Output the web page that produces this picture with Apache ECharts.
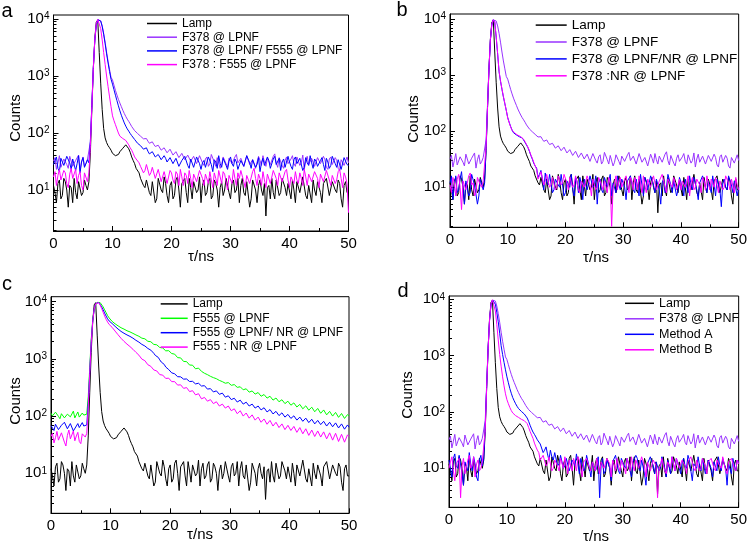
<!DOCTYPE html>
<html><head><meta charset="utf-8">
<script src="https://cdn.jsdelivr.net/npm/echarts@6/dist/echarts.min.js"></script>
<style>html,body{margin:0;padding:0;background:#fff}#c{width:750px;height:547px}</style>
</head><body><div id="c"></div>
<script>
// sample times (ns), 0.25 ns step
const times = [
  0,0.25,0.5,0.75,1,1.25,1.5,1.75,2,2.25,2.5,2.75,
  3,3.25,3.5,3.75,4,4.25,4.5,4.75,5,5.25,5.5,5.75,
  6,6.25,6.5,6.75,7,7.25,7.5,7.75,8,8.25,8.5,8.75,9,9.25,9.5,9.75,
  10,10.25,10.5,10.75,11,11.25,11.5,11.75,12,12.25,12.5,12.75,13,13.25,13.5,13.75,14,14.25,14.5,14.75,
  15,15.25,15.5,15.75,16,16.25,16.5,16.75,17,17.25,17.5,17.75,18,18.25,18.5,18.75,19,19.25,19.5,19.75,
  20,20.25,20.5,20.75,21,21.25,21.5,21.75,22,22.25,22.5,22.75,23,23.25,23.5,23.75,24,24.25,24.5,24.75,
  25,25.25,25.5,25.75,26,26.25,26.5,26.75,27,27.25,27.5,27.75,28,28.25,28.5,28.75,29,29.25,29.5,29.75,
  30,30.25,30.5,30.75,31,31.25,31.5,31.75,32,32.25,32.5,32.75,33,33.25,33.5,33.75,34,34.25,34.5,34.75,
  35,35.25,35.5,35.75,36,36.25,36.5,36.75,37,37.25,37.5,37.75,38,38.25,38.5,38.75,39,39.25,39.5,39.75,
  40,40.25,40.5,40.75,41,41.25,41.5,41.75,42,42.25,42.5,42.75,43,43.25,43.5,43.75,44,44.25,44.5,44.75,
  45,45.25,45.5,45.75,46,46.25,46.5,46.75,47,47.25,47.5,47.75,48,48.25,48.5,48.75,49,49.25,49.5,49.75,
  50];

const lamp = [
  12,9,6,13,15,7,8,16,14,10,5,12,
  11,6,16,9,7,14,13,8,9,15,12,10,
  14,45,260,1300,4500,8800,9600,2600,750,260,120,82,68,60,55,50,
  44,42,40,38,42,47,50,54,58,62,60,53,46,38,33,29,24,23,20,16,
  17,12,11,15,16,9,8,14,14,6,7,16,15,10,9,17,13,8,6,12,
  14,7,8,15,17,10,5,13,12,16,9,6,16,11,7,14,13,9,10,17,
  6,12,15,8,9,14,16,7,8,15,13,10,5,11,14,8,10,16,17,9,
  7,13,15,9,10,16,6,12,16,9,8,14,13,5,7,15,14,10,6,12,
  15,10,8,13,3.5,11,12,7,16,9,7,15,14,8,9,16,17,11,8,13,
  12,7,15,10,6,14,14,9,9,17,16,8,7,12,13,6,15,10,8,14,
  14,9,6,13,12,16,17,8,8,14,15,10,9,15,13,7,5,12,14,9,
  9];

const f378 = [
  32,37,23,30,40,25,27,35,36,28,24,39,
  42,26,28,33,34,41,22,31,38,26,29,34,
  33,70,300,1400,4200,7800,9700,9900,9300,7600,5600,3900,2600,1800,1300,950,
  850,690,560,465,390,335,290,250,220,195,175,160,145,130,122,110,102,98,92,88,
  86,79,74,80,72,66,62,70,63,58,55,61,57,50,48,55,51,45,43,52,
  48,41,39,47,45,37,36,44,42,34,33,41,40,32,31,39,38,29,30,40,
  39,30,27,35,38,26,29,42,41,31,26,37,36,24,28,38,40,29,25,36,
  37,29,27,38,42,30,28,36,35,26,24,40,39,28,27,34,36,24,25,39,
  33,27,40,31,26,36,37,28,28,39,43,30,25,37,35,27,24,33,38,29,
  28,35,40,29,26,38,36,27,30,41,23,32,39,28,27,36,35,26,25,37,
  37,29,27,39,34,25,23,35,38,28,26,37,33,24,22,34,36,27,25,38,
  30];

const aBlend = [
  28,33,38,24,21,36,34,27,25,39,41,30,
  23,35,36,22,29,40,20,31,37,25,26,34,
  30,72,310,1400,4200,7800,9700,9900,9200,7400,5400,3700,2450,1700,1200,880,
  720,575,460,370,300,245,205,175,150,132,118,108,98,90,84,77,72,66,62,60,
  58,52,50,55,48,43,42,47,44,38,36,42,39,34,33,40,36,31,30,37,
  35,29,27,36,34,26,25,33,32,39,38,27,24,35,33,25,27,38,39,29,
  23,30,33,25,26,38,37,28,21,34,31,24,40,29,25,36,34,27,23,32,
  38,29,26,35,31,23,22,33,35,26,27,40,39,30,24,34,32,25,28,37,
  21,30,36,27,26,38,33,24,24,35,39,28,27,36,22,31,35,25,26,39,
  31,26,23,34,38,29,27,36,34,22,25,37,30,27,40,30,24,35,32,26,
  26,33,37,28,22,36,31,24,27,39,38,29,25,34,32,23,23,37,35,28,
  27];

const aMix = [
  17,21,12,18,23,15,14,22,20,13,11,19,
  24,16,15,23,13,18,21,12,10,20,19,14,
  20,60,290,1350,4300,8300,9800,9300,6800,4300,2600,1600,1000,650,430,290,
  200,165,140,118,100,88,82,80,76,74,70,62,55,50,44,38,35,33,30,26,
  27,20,22,28,26,18,20,25,24,16,17,23,22,14,15,21,21,13,14,22,
  20,15,13,21,19,12,23,17,12,20,18,13,22,16,11,19,19,14,14,22,
  23,16,12,19,18,13,21,15,11,20,16,12,22,17,13,21,19,14,10,18,
  18,13,23,16,12,20,16,22,21,14,11,18,19,13,14,21,24,16,12,19,
  16,12,21,15,11,19,18,13,13,22,22,16,12,20,19,14,14,21,23,15,
  11,17,18,13,21,15,13,20,16,12,23,17,12,19,19,14,14,21,22,16,
  11,19,18,14,13,22,21,15,12,18,19,13,15,21,23,16,11,20,17,13,
  4];

const bBlend = [
  12,16,6,11,16,8,9,14,19,10,5,13,
  14,7,8,17,17,11,11,5,7,14,15,9,
  12,50,270,1300,4300,8300,9800,8800,4800,2400,1150,780,560,410,310,235,
  175,145,122,105,94,90,86,83,80,78,76,70,63,57,51,44,37,32,27,24,
  22,15,17,20,14,9,18,12,11,17,16,8,9,14,15,11,10,17,16,7,
  8,13,14,10,17,9,7,15,13,8,15,11,6,14,13,9,9,16,16,10,
  11,16,5,12,14,9,8,15,15,10,10,17,7,12,13,8,16,11,9,14,
  14,10,6,13,12,16,15,9,8,14,13,7,17,11,7,15,13,9,9,16,
  15,11,8,14,13,9,5,12,14,8,10,17,16,11,8,13,13,7,9,15,
  15,10,7,14,13,8,16,11,9,15,14,9,6,12,13,16,15,10,8,13,
  12,8,16,11,7,14,13,9,4.5,12,14,10,9,16,15,11,8,13,13,7,
  10];

const bMix = [
  11,8,15,12,7,14,17,10,4,13,14,9,
  9,16,18,11,12,7,8,15,16,11,10,13,
  14,52,275,1320,4350,8300,9800,8900,4900,2450,1180,800,570,420,315,235,
  172,142,120,104,96,92,88,85,82,80,78,72,65,58,52,45,38,33,28,24,
  21,14,16,19,19,11,13,17,17,10,11,15,16,9,10,16,15,11,12,17,
  16,12,9,15,14,10,11,16,17,9,8,13,14,10,10,16,15,11,7,14,
  14,9,10,15,16,11,9,13,13,8,15,12,2,10,12,16,9,13,15,10,
  10,14,16,11,8,15,13,9,15,12,9,16,12,8,16,11,8,14,14,10,
  10,16,15,9,9,13,13,17,16,10,8,14,14,11,10,15,15,9,11,14,
  9,13,14,10,10,16,7,12,15,9,10,14,14,11,8,15,13,9,16,12,
  9,14,13,10,15,11,8,13,14,9,10,16,16,12,9,14,13,8,15,11,
  9];

const f555 = [
  112,101,95,117,121,99,90,110,106,93,86,108,
  115,97,98,122,93,105,118,96,89,113,104,100,
  108,220,700,2200,4800,7300,8900,9700,9900,9600,8900,8100,7200,6400,5700,5200,
  4800,4520,4300,4100,3950,3780,3650,3500,3400,3310,3200,3100,3050,2960,2900,2790,2700,2620,2550,2480,
  2450,2300,2220,2240,2170,2030,1970,1990,1910,1790,1740,1760,1690,1580,1530,1550,1500,1380,1360,1390,
  1350,1240,1190,1210,1160,1050,1020,1040,995,900,875,895,860,780,760,775,750,670,660,690,
  650,605,590,560,570,530,520,495,505,470,462,450,452,420,412,400,405,375,372,385,
  372,345,340,355,342,318,308,325,312,288,284,300,288,262,258,275,266,242,238,258,
  246,222,220,238,230,206,204,222,214,190,188,207,200,178,176,193,186,165,162,182,
  176,155,152,170,164,144,142,160,155,134,133,151,146,127,125,143,138,119,117,136,
  130,112,110,128,124,105,104,121,118,100,99,116,112,95,94,111,107,91,90,106,
  100];

const cBlend = [
  68,62,56,72,76,58,54,69,66,78,80,60,
  59,74,71,55,52,67,74,63,61,77,67,70,
  70,170,600,2000,4600,7400,9200,9900,9700,9000,8100,7200,6300,5600,5000,4600,
  4400,4150,3900,3700,3500,3320,3150,3020,2900,2800,2700,2620,2550,2470,2400,2300,2200,2110,2020,1960,
  1900,1790,1700,1680,1630,1520,1440,1420,1360,1250,1150,1120,1060,960,880,850,800,720,665,650,
  615,570,540,548,525,488,470,485,472,442,430,445,432,402,392,405,392,365,357,375,
  362,335,322,340,322,296,284,302,292,264,258,276,266,240,232,252,240,214,208,226,
  212,194,190,205,196,176,174,190,182,162,160,175,168,150,148,162,156,138,136,150,
  144,128,126,140,133,118,116,130,124,109,108,121,117,102,101,114,110,96,95,107,
  104,91,89,101,99,85,84,96,94,81,80,92,90,77,76,88,86,73,73,84,
  83,71,70,81,80,67,67,78,77,65,64,76,74,62,62,73,71,59,60,70,
  64];

const cMix = [
  44,50,34,42,54,38,39,51,49,35,30,46,
  57,40,41,55,37,45,52,36,33,49,47,43,
  50,140,560,1900,4500,7400,9200,9900,9600,8700,7600,6500,5600,4900,4400,4000,
  3850,3560,3300,3060,2850,2640,2450,2290,2150,2020,1900,1810,1720,1640,1560,1470,1380,1300,1220,1160,
  1100,990,950,930,880,790,745,740,705,640,615,615,590,530,515,520,500,455,445,460,
  442,400,390,400,385,348,340,352,338,305,302,315,298,268,264,278,262,235,230,246,
  222,200,196,212,204,182,178,194,186,165,162,178,170,150,148,162,156,138,136,150,
  144,124,118,134,128,110,108,124,118,100,98,113,108,92,90,105,100,85,84,96,
  92,78,76,89,86,72,71,84,80,67,66,78,75,63,62,73,70,58,58,69,
  67,56,55,66,64,52,52,63,61,49,49,60,58,46,47,57,56,44,44,55,
  54,43,42,53,52,40,40,51,51,38,39,50,49,36,37,48,48,35,36,47,
  44];

const methodA = [
  14,10,7,15,18,11,10,17,16,8,5,13,
  13,9,19,12,9,16,12,7,6,14,17,11,
  15,55,280,1350,4300,8100,9700,9700,8200,5900,4000,2500,1500,1050,760,560,
  420,330,260,215,180,158,140,126,115,108,102,97,92,86,78,68,58,50,44,40,
  36,32,30,27,25,19,21,24,18,14,21,16,14,19,18,11,12,17,17,10,
  11,15,16,9,9,14,15,11,18,12,8,15,14,9,10,17,16,10,7,13,
  14,9,10,16,3,11,15,8,9,14,14,10,6,13,13,17,16,9,8,15,
  14,11,10,15,16,9,7,13,13,17,15,10,9,14,14,8,5,12,13,16,
  16,11,8,13,14,9,10,16,15,10,7,14,13,8,16,12,9,15,14,10,
  8,13,15,11,10,17,14,9,6,12,13,10,16,11,9,15,14,8,10,14,
  15,10,7,13,13,9,16,11,9,15,14,10,5,12,13,8,15,11,9,14,
  13];

const methodB = [
  10,13,16,9,6,12,13,15,3,11,15,8,
  8,14,17,10,11,16,7,12,14,9,10,13,
  12,48,270,1300,4300,8300,9800,9200,6200,3600,1900,1050,650,420,290,210,
  165,140,120,106,96,90,86,83,80,77,74,72,70,66,62,53,45,39,34,28,
  24,21,19,14,15,17,18,11,12,16,16,9,10,14,15,11,9,15,14,10,
  16,11,8,14,13,9,15,12,9,16,14,10,7,13,12,15,16,10,9,13,
  12,9,15,11,8,13,14,10,10,15,16,12,7,14,12,9,15,11,9,14,
  14,10,8,15,12,9,16,11,9,14,14,10,10,16,15,11,7,13,13,9,
  9,14,15,11,3,10,11,15,14,9,8,13,13,10,16,12,9,15,14,10,
  10,14,15,11,8,13,12,16,16,10,9,14,14,9,10,15,15,11,8,13,
  12,15,16,10,9,14,14,11,10,16,15,9,8,13,12,15,16,10,9,14,
  12];

const xTicks = [0, 10, 20, 30, 40, 50];
const yMajor = [10, 100, 1000, 10000];
const yMinor = [2,3,4,5,6,7,8,9,20,30,40,50,60,70,80,90,200,300,400,500,600,700,800,900,2000,3000,4000,5000,6000,7000,8000,9000];

const BLACK = '#000000', PURPLE = '#9933ff', BLUE = '#0000ff', MAG = '#ff00ff', GREEN = '#00ff00';
const FONT = '"Liberation Sans", Arial, Helvetica, sans-serif';

const panels = [
  { grid:{left:53.5, top:15, width:295, height:216}, ymin:1.91, ymax:11750,
    series:[['Lamp',lamp,BLACK],['F378 @ LPNF',f378,PURPLE],['F378 @ LPNF/ F555 @ LPNF',aBlend,BLUE],['F378 : F555 @ LPNF',aMix,MAG]],
    legend:{left:147, top:17.5, w:30, fs:12, gap:1.7},
    letter:['a',7,11], counts:[16,118], xname:[201,257] },
  { grid:{left:450, top:14, width:292.3, height:213.3}, ymin:1.93, ymax:12400,
    series:[['Lamp',lamp,BLACK],['F378 @ LPNF',f378,PURPLE],['F378 @ LPNF/NR @ LPNF',bBlend,BLUE],['F378 :NR @ LPNF',bMix,MAG]],
    legend:{left:535.7, top:18.1, w:31, fs:13.5, gap:2.9},
    letter:['b',402,10], counts:[414,119], xname:[596,258] },
  { grid:{left:51, top:296.7, width:298, height:216.6}, ymin:2.0, ymax:12200,
    series:[['Lamp',lamp,BLACK],['F555 @ LPNF',f555,GREEN],['F555 @ LPNF/ NR @ LPNF',cBlend,BLUE],['F555 : NR @ LPNF',cMix,MAG]],
    legend:{left:160.7, top:297.9, w:27, fs:12, gap:2.4},
    letter:['c',7,284.7], counts:[16,401], xname:[200,535] },
  { grid:{left:449, top:296, width:293.3, height:211.3}, ymin:2.03, ymax:11450,
    series:[['Lamp',lamp,BLACK],['F378 @ LPNF',f378,PURPLE],['Method A',methodA,BLUE],['Method B',methodB,MAG]],
    legend:{left:625, top:296.8, w:29, fs:12.5, gap:2.5},
    letter:['d',403,291.3], counts:[407.5,395], xname:[596,537] }
];

const option = { animation:false, backgroundColor:'#fff', grid:[], xAxis:[], yAxis:[], series:[], legend:[], graphic:[] };

function supLabel(v){
  const e = Math.log10(v);
  const r = Math.round(e);
  if (Math.abs(e - r) > 1e-6) return '';
  return '10{s|' + r + '}';
}

panels.forEach((p, i) => {
  option.grid.push(Object.assign({show:true, borderColor:'#000', borderWidth:1, backgroundColor:'transparent'}, p.grid));
  option.xAxis.push({
    type:'value', gridIndex:i, min:0, max:50, interval:10,
    axisLine:{show:true, lineStyle:{color:'#000', width:1}},
    axisTick:{show:true, inside:true, length:5, lineStyle:{color:'#000', width:1}},
    minorTick:{show:true, splitNumber:2, length:3, lineStyle:{color:'#000', width:1}},
    axisLabel:{fontSize:15, color:'#000', fontFamily:FONT, margin:5,
      formatter:(v)=> xTicks.indexOf(v) >= 0 ? String(v) : ''},
    splitLine:{show:false}
  });
  option.yAxis.push({
    type:'log', logBase:10, gridIndex:i, position:'left', min:p.ymin, max:p.ymax,
    axisLine:{show:true, lineStyle:{color:'#000', width:1}},
    axisTick:{show:true, inside:true, length:5, customValues:yMajor, lineStyle:{color:'#000', width:1}},
    axisLabel:{fontSize:15, color:'#000', fontFamily:FONT, margin:4, customValues:yMajor,
      formatter:supLabel,
      rich:{s:{fontSize:10, fontFamily:FONT, color:'#000', verticalAlign:'top', lineHeight:10}}},
    splitLine:{show:false}
  });
  option.yAxis.push({
    type:'log', logBase:10, gridIndex:i, position:'left', min:p.ymin, max:p.ymax,
    axisLine:{show:false},
    axisTick:{show:true, inside:true, length:3, customValues:yMinor, lineStyle:{color:'#000', width:1}},
    axisLabel:{show:false},
    splitLine:{show:false}
  });
  p.series.forEach((s, k) => {
    option.series.push({
      type:'line', name:s[0], xAxisIndex:i, yAxisIndex:2*i,
      data: times.map((t, j) => [t, s[1][j]]),
      symbol:'none', showSymbol:false,
      lineStyle:{width:1, color:s[2]}, itemStyle:{color:s[2]},
      z: 2 + k, silent:true
    });
  });
  option.legend.push({
    orient:'vertical', left:p.legend.left, top:p.legend.top, padding:0,
    icon:'rect', itemWidth:p.legend.w, itemHeight:1.5, itemGap:p.legend.gap,
    textStyle:{fontSize:p.legend.fs, color:'#000', fontFamily:FONT},
    data:p.series.map(s => s[0]), selectedMode:false
  });
  option.graphic.push({type:'text', x:p.letter[1], y:p.letter[2],
    style:{text:p.letter[0], fontSize:20, fontFamily:FONT, fill:'#000', textAlign:'center', textVerticalAlign:'middle'}});
  option.graphic.push({type:'text', x:p.counts[0], y:p.counts[1], rotation:Math.PI/2,
    style:{text:'Counts', fontSize:15, fontFamily:FONT, fill:'#000', textAlign:'center', textVerticalAlign:'middle'}});
  option.graphic.push({type:'text', x:p.xname[0], y:p.xname[1],
    style:{text:'τ/ns', fontSize:15, fontFamily:FONT, fill:'#000', textAlign:'center', textVerticalAlign:'middle'}});
});

const chart = echarts.init(document.getElementById('c'), null, {renderer:'canvas'});
chart.setOption(option);
</script>
</body></html>
